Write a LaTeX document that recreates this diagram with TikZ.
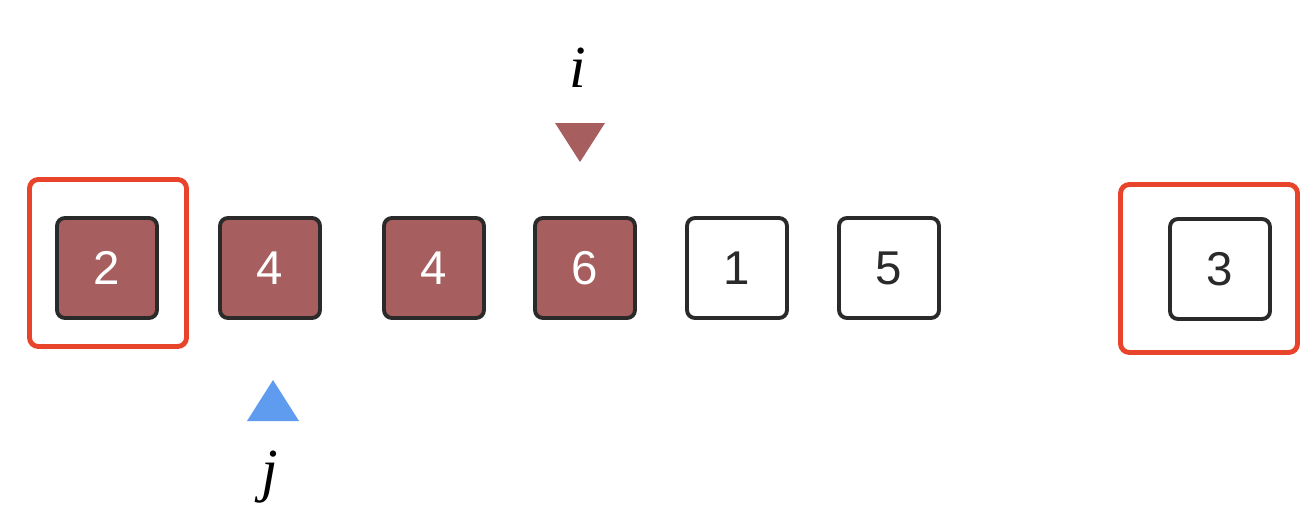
\documentclass[tikz,border=0pt]{standalone}
\usepackage{fontspec}
\setsansfont{Liberation Sans}
\setmainfont{Liberation Serif}
\usetikzlibrary{positioning,calc}
\definecolor{cell}{HTML}{A65E5E}
\definecolor{frame}{HTML}{E8432B}
\definecolor{ink}{HTML}{2A2A2A}
\definecolor{ptrj}{HTML}{5F9BEF}
\begin{document}
\begin{tikzpicture}[x=0.02cm,y=-0.02cm,
  box/.style={draw=ink,line width=2.2pt,rounded corners=4.5pt,minimum size=2cm,inner sep=0pt,
    font=\sffamily\fontsize{27}{30}\selectfont},
  done/.style={box,fill=cell,text=white},
  todo/.style={box,fill=white,text=ink},
  sel/.style={draw=frame,line width=2.8pt,rounded corners=5pt,inner sep=0pt},
  lbl/.style={font=\rmfamily\itshape\fontsize{34}{38}\selectfont}]
\useasboundingbox (0,0) rectangle (1310,518);
% array cells
\foreach \v/\x/\s [count=\k] in {2/107/done,4/270/done,4/434/done,6/585/done,1/737/todo,5/889/todo}
  \node[\s] (c\k) at (\x,268) {\v};
\node[todo] (c7) at (1220,269) {3};
% selected elements
\node[sel,minimum width=3.14cm,minimum height=3.34cm] (s1) at (108,263) {};
\node[sel,minimum width=3.54cm,minimum height=3.36cm] (s2) at (1209,268.5) {};
% pointers
\coordinate (pi) at (580,162); \coordinate (pj) at (273,380);
\fill[cell] (pi) -- ++(-25,-39) -- ++(50,0) -- cycle;
\fill[ptrj] (pj) -- ++(-26,41) -- ++(52,0) -- cycle;
\node[lbl] (li) at (578,68) {i};
\node[lbl] (lj) at (270,477) {j};
\end{tikzpicture}
\end{document}
